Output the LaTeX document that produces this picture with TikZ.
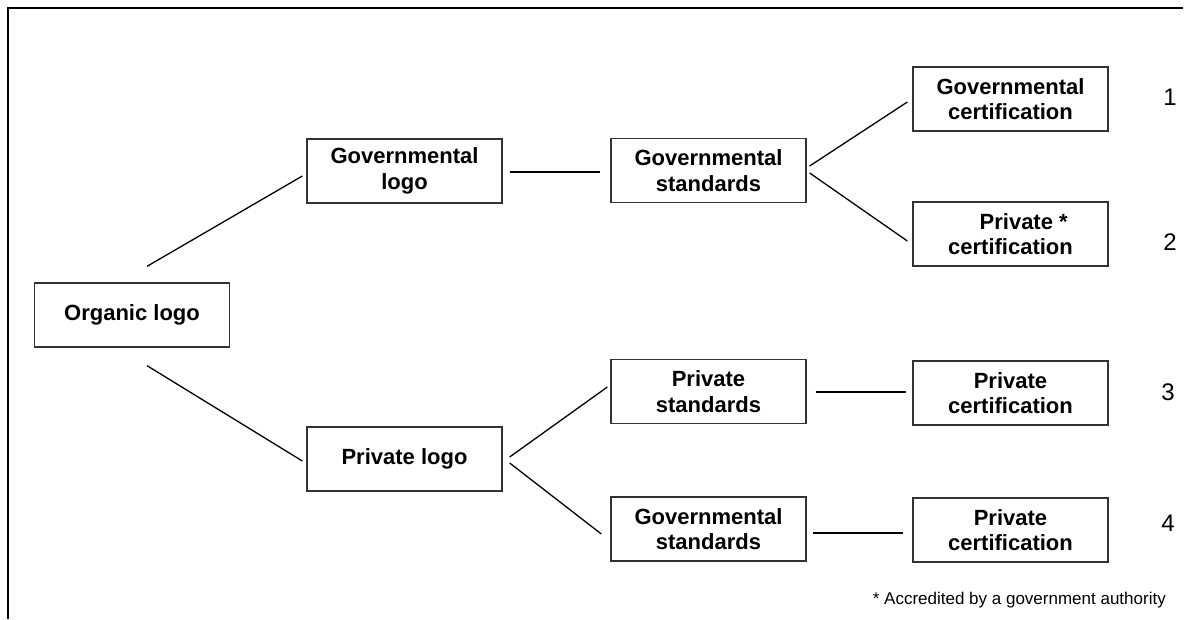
\documentclass[tikz,border=0pt]{standalone}
\usepackage{fontspec}
\setmainfont{Liberation Sans}
\begin{document}
\begin{tikzpicture}[x=1pt,y=-1pt,
  box/.style={draw=black!80,line width=1.3pt,minimum width=195pt,minimum height=64pt,
    align=center,inner sep=0pt,font=\fontsize{22}{25.5}\selectfont\bfseries},
  link/.style={draw=black,line width=1.3pt},
  num/.style={font=\fontsize{24}{28}\selectfont,inner sep=0pt},
  note/.style={font=\fontsize{17}{20}\selectfont,inner sep=0pt}]
\useasboundingbox (0,0) rectangle (1192,619);
\fill[white] (0,0) rectangle (1192,619);
% frame (top and left edges)
\coordinate (ftl) at (8,8);
\coordinate (ftr) at (1183,8);
\coordinate (fbl) at (8,619);
\draw[line width=2pt] (fbl) -- (ftl) -- (ftr);
% boxes
\node[box] (org) at (132,315) {Organic logo};
\node[box] (govlogo) at (404.5,171) {Governmental\\logo};
\node[box] (govstd) at (708.5,170.5) {Governmental\\standards};
\node[box] (govcert) at (1010.5,99) {Governmental\\certification};
\node[box] (pcertA) at (1010.5,234) {\hspace{1.2em}Private *\\certification};
\node[box] (privlogo) at (404.5,459) {Private logo};
\node[box] (privstd) at (708.5,391.5) {Private\\standards};
\node[box] (govstdB) at (708.5,529) {Governmental\\standards};
\node[box] (pcertB) at (1010.5,393) {Private\\certification};
\node[box] (pcertC) at (1010.5,530) {Private\\certification};
% numbers
\node[num] (n1) at (1170,97) {1};
\node[num] (n2) at (1170,242) {2};
\node[num] (n3) at (1168,392) {3};
\node[num] (n4) at (1168,523) {4};
% footnote
\node[note,anchor=east] (fn) at (1166,600) {* Accredited by a government authority};
% connectors
\draw[link] ([shift={(15,-16)}]org.north) -- ([shift={(-4,5)}]govlogo.west);
\draw[link] ([shift={(15,18)}]org.south) -- ([shift={(-4,2)}]privlogo.west);
\draw[link] ([shift={(7,1)}]govlogo.east) -- ([shift={(-10,1.5)}]govstd.west);
\draw[link] ([shift={(3,-4.5)}]govstd.east) -- ([shift={(-5,3)}]govcert.west);
\draw[link] ([shift={(3,2.5)}]govstd.east) -- ([shift={(-5,7)}]pcertA.west);
\draw[link] ([shift={(7,-2)}]privlogo.east) -- ([shift={(-3,-4.5)}]privstd.west);
\draw[link] ([shift={(7,4)}]privlogo.east) -- ([shift={(-9,5)}]govstdB.west);
\draw[link] ([shift={(9,0.5)}]privstd.east) -- ([shift={(-6,-1)}]pcertB.west);
\draw[link] ([shift={(6,4)}]govstdB.east) -- ([shift={(-9,3)}]pcertC.west);
\end{tikzpicture}
\end{document}
